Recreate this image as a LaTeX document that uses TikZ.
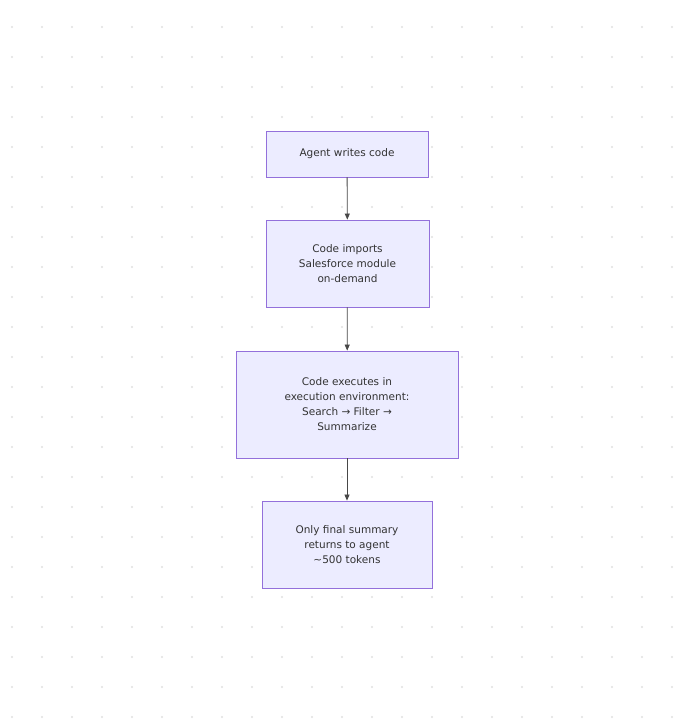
\documentclass[tikz,border=0pt]{standalone}
\usepackage{fontspec}
\setmainfont{DejaVu Sans}
\usetikzlibrary{arrows.meta}
\definecolor{boxfill}{HTML}{ECECFF}
\definecolor{boxline}{HTML}{9370DB}
\definecolor{dotc}{HTML}{E0E0E0}
\definecolor{txt}{HTML}{333333}
\begin{document}
\begin{tikzpicture}[x=1pt,y=1pt,
  box/.style={draw=boxline,fill=boxfill,line width=0.8pt,align=center,text=txt,
    font=\fontsize{10.5}{15}\selectfont,inner sep=0pt},
  arr/.style={draw=txt!90,line width=0.8pt,-{Triangle[length=6pt,width=5pt]}}]
\fill[white] (0,0) rectangle (676,724);
\useasboundingbox (0,0) rectangle (676,724);
\foreach \i in {0,...,22} \foreach \j in {0,...,23}
  \fill[dotc] (12+30*\i,697-30*\j) circle (1.1);
\node[box,minimum width=162,minimum height=46] (a) at (347,570) {Agent writes code};
\node[box,minimum width=163,minimum height=87] (b) at (347.5,460.5) {Code imports\\Salesforce module\\on-demand};
\node[box,minimum width=222,minimum height=107] (c) at (347,319.5) {Code executes in\\execution environment:\\Search → Filter →\\Summarize};
\node[box,minimum width=170,minimum height=87] (d) at (347,179.5) {Only final summary\\returns to agent\\\textasciitilde500 tokens};
\draw[arr] (a) -- (b);
\draw[arr] (b) -- (c);
\draw[arr] (c) -- (d);
\end{tikzpicture}
\end{document}
